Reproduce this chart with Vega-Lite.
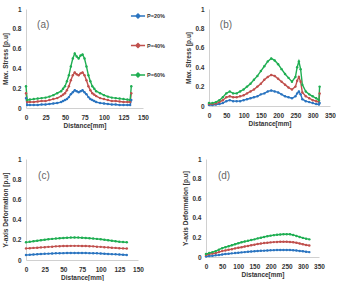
{
"$schema":"https://vega.github.io/schema/vega-lite/v6.json",
"padding":{"left":2,"top":6,"right":0,"bottom":0},
"background":"white",
"config":{
 "view":{"stroke":null},
 "axis":{"grid":false,"ticks":false,"labelOverlap":false,"labelFlush":false,"domainColor":"#d0d0d0","labelFont":"Liberation Sans","labelFontWeight":"bold","labelFontSize":6.5,"labelColor":"#333","titleFont":"Liberation Sans","titleFontWeight":"bold","titleFontSize":6.5,"titleColor":"#333"},
 "axisX":{"titlePadding":1.5,"labelPadding":6},
 "axisY":{"titlePadding":3,"labelPadding":5},
 "legend":{"title":null,"orient":"none","labelFont":"Liberation Sans","labelFontWeight":"bold","labelFontSize":5.5,"labelColor":"#333","symbolType":"M-1,0H1M0,-0.3L0.3,0L0,0.3L-0.3,0Z","symbolSize":200,"symbolStrokeWidth":1.2,"labelOffset":1,"rowPadding":15},
 "line":{"strokeWidth":1.4},
 "text":{"font":"Liberation Sans","fontSize":10,"color":"#666"}
},
"vconcat":[
 {"hconcat":[
  {"width":117,"height":99,
   "encoding":{
    "x":{"field":"x","type":"quantitative","scale":{"domain":[0,150]},"axis":{"values":[0,25,50,75,100,125,150],"labelOverlap":false,"title":"Distance[mm]"}},
    "y":{"field":"v","type":"quantitative","scale":{"domain":[0,1]},"axis":{"values":[0,0.2,0.4,0.6,0.8,1],"labelOverlap":false,"format":"~g","title":"Max. Stress [p.u]"}}
   },
   "layer":[
    {"data":{"values":[
{"x":0,"P=20%":0.10,"P=40%":0.15,"P=60%":0.22},
{"x":1.5,"P=20%":0.03,"P=40%":0.06,"P=60%":0.08},
{"x":5,"P=20%":0.03,"P=40%":0.06,"P=60%":0.085},
{"x":10,"P=20%":0.03,"P=40%":0.06,"P=60%":0.09},
{"x":15,"P=20%":0.03,"P=40%":0.065,"P=60%":0.095},
{"x":20,"P=20%":0.035,"P=40%":0.07,"P=60%":0.10},
{"x":25,"P=20%":0.035,"P=40%":0.07,"P=60%":0.105},
{"x":30,"P=20%":0.04,"P=40%":0.08,"P=60%":0.115},
{"x":35,"P=20%":0.045,"P=40%":0.09,"P=60%":0.13},
{"x":40,"P=20%":0.05,"P=40%":0.10,"P=60%":0.15},
{"x":45,"P=20%":0.06,"P=40%":0.12,"P=60%":0.17},
{"x":47.5,"P=20%":0.07,"P=40%":0.135,"P=60%":0.195},
{"x":50,"P=20%":0.08,"P=40%":0.15,"P=60%":0.22},
{"x":52.5,"P=20%":0.09,"P=40%":0.18,"P=60%":0.27},
{"x":55,"P=20%":0.11,"P=40%":0.22,"P=60%":0.33},
{"x":57.5,"P=20%":0.14,"P=40%":0.28,"P=60%":0.42},
{"x":60,"P=20%":0.16,"P=40%":0.33,"P=60%":0.50},
{"x":62.5,"P=20%":0.18,"P=40%":0.36,"P=60%":0.55},
{"x":65,"P=20%":0.17,"P=40%":0.34,"P=60%":0.52},
{"x":67.5,"P=20%":0.16,"P=40%":0.33,"P=60%":0.50},
{"x":70,"P=20%":0.17,"P=40%":0.35,"P=60%":0.53},
{"x":72.5,"P=20%":0.18,"P=40%":0.36,"P=60%":0.54},
{"x":75,"P=20%":0.16,"P=40%":0.33,"P=60%":0.50},
{"x":77.5,"P=20%":0.14,"P=40%":0.28,"P=60%":0.42},
{"x":80,"P=20%":0.11,"P=40%":0.22,"P=60%":0.33},
{"x":82.5,"P=20%":0.09,"P=40%":0.18,"P=60%":0.27},
{"x":85,"P=20%":0.08,"P=40%":0.15,"P=60%":0.22},
{"x":87.5,"P=20%":0.07,"P=40%":0.135,"P=60%":0.195},
{"x":90,"P=20%":0.06,"P=40%":0.12,"P=60%":0.17},
{"x":95,"P=20%":0.05,"P=40%":0.10,"P=60%":0.15},
{"x":100,"P=20%":0.045,"P=40%":0.09,"P=60%":0.13},
{"x":105,"P=20%":0.04,"P=40%":0.08,"P=60%":0.115},
{"x":110,"P=20%":0.035,"P=40%":0.07,"P=60%":0.105},
{"x":115,"P=20%":0.035,"P=40%":0.07,"P=60%":0.10},
{"x":120,"P=20%":0.03,"P=40%":0.065,"P=60%":0.095},
{"x":125,"P=20%":0.03,"P=40%":0.06,"P=60%":0.09},
{"x":130,"P=20%":0.03,"P=40%":0.06,"P=60%":0.085},
{"x":133.5,"P=20%":0.03,"P=40%":0.06,"P=60%":0.08},
{"x":135,"P=20%":0.08,"P=40%":0.15,"P=60%":0.22}
     ]},
     "transform":[{"fold":["P=20%","P=40%","P=60%"],"as":["s","v"]}],
     "mark":{"type":"line","point":{"filled":true,"size":6}},
     "encoding":{
      "color":{"field":"s","type":"nominal","scale":{"domain":["P=20%","P=40%","P=60%"],"range":["#2a74c0","#c0504d","#1fae52"]},"legend":{"legendX":104,"legendY":-1}}
     }},
    {"data":{"values":[{"t":"(a)","x":22,"v":0.84}]},"mark":{"type":"text"},
     "encoding":{"text":{"field":"t"}}}
   ]},
  {"width":121,"height":97,
   "encoding":{
    "x":{"field":"x","type":"quantitative","scale":{"domain":[0,350]},"axis":{"values":[0,50,100,150,200,250,300,350],"labelOverlap":false,"title":"Distance[mm]"}},
    "y":{"field":"v","type":"quantitative","scale":{"domain":[0,1]},"axis":{"values":[0,0.2,0.4,0.6,0.8,1],"labelOverlap":false,"format":"~g","title":"Max. Stress [p.u]"}}
   },
   "layer":[
    {"data":{"values":[
{"x":0,"P=20%":0.01,"P=40%":0.02,"P=60%":0.03},
{"x":10,"P=20%":0.01,"P=40%":0.02,"P=60%":0.03},
{"x":20,"P=20%":0.015,"P=40%":0.025,"P=60%":0.04},
{"x":30,"P=20%":0.02,"P=40%":0.04,"P=60%":0.06},
{"x":40,"P=20%":0.03,"P=40%":0.06,"P=60%":0.09},
{"x":50,"P=20%":0.05,"P=40%":0.09,"P=60%":0.13},
{"x":60,"P=20%":0.06,"P=40%":0.10,"P=60%":0.15},
{"x":70,"P=20%":0.05,"P=40%":0.09,"P=60%":0.13},
{"x":80,"P=20%":0.05,"P=40%":0.09,"P=60%":0.13},
{"x":90,"P=20%":0.05,"P=40%":0.10,"P=60%":0.15},
{"x":100,"P=20%":0.06,"P=40%":0.11,"P=60%":0.17},
{"x":110,"P=20%":0.07,"P=40%":0.13,"P=60%":0.20},
{"x":120,"P=20%":0.08,"P=40%":0.15,"P=60%":0.23},
{"x":130,"P=20%":0.09,"P=40%":0.17,"P=60%":0.27},
{"x":140,"P=20%":0.10,"P=40%":0.20,"P=60%":0.31},
{"x":150,"P=20%":0.12,"P=40%":0.23,"P=60%":0.36},
{"x":160,"P=20%":0.13,"P=40%":0.27,"P=60%":0.41},
{"x":170,"P=20%":0.15,"P=40%":0.30,"P=60%":0.46},
{"x":180,"P=20%":0.16,"P=40%":0.32,"P=60%":0.49},
{"x":190,"P=20%":0.15,"P=40%":0.31,"P=60%":0.47},
{"x":200,"P=20%":0.14,"P=40%":0.28,"P=60%":0.43},
{"x":210,"P=20%":0.12,"P=40%":0.25,"P=60%":0.38},
{"x":220,"P=20%":0.10,"P=40%":0.22,"P=60%":0.33},
{"x":230,"P=20%":0.09,"P=40%":0.19,"P=60%":0.29},
{"x":240,"P=20%":0.08,"P=40%":0.17,"P=60%":0.25},
{"x":250,"P=20%":0.10,"P=40%":0.20,"P=60%":0.30},
{"x":255,"P=20%":0.13,"P=40%":0.26,"P=60%":0.40},
{"x":260,"P=20%":0.15,"P=40%":0.30,"P=60%":0.46},
{"x":265,"P=20%":0.12,"P=40%":0.25,"P=60%":0.38},
{"x":270,"P=20%":0.07,"P=40%":0.14,"P=60%":0.22},
{"x":280,"P=20%":0.05,"P=40%":0.10,"P=60%":0.15},
{"x":290,"P=20%":0.04,"P=40%":0.08,"P=60%":0.12},
{"x":300,"P=20%":0.03,"P=40%":0.06,"P=60%":0.10},
{"x":310,"P=20%":0.02,"P=40%":0.05,"P=60%":0.08},
{"x":318,"P=20%":0.015,"P=40%":0.04,"P=60%":0.06},
{"x":320,"P=20%":0.03,"P=40%":0.13,"P=60%":0.20}
     ]},
     "transform":[{"fold":["P=20%","P=40%","P=60%"],"as":["s","v"]}],
     "mark":{"type":"line","point":{"filled":true,"size":6}},
     "encoding":{
      "color":{"field":"s","type":"nominal","scale":{"domain":["P=20%","P=40%","P=60%"],"range":["#2a74c0","#c0504d","#1fae52"]},"legend":{"legendX":109,"legendY":1}}
     }},
    {"data":{"values":[{"t":"(b)","x":49,"v":0.84}]},"mark":{"type":"text"},
     "encoding":{"text":{"field":"t"}}}
   ]}
 ],"spacing":36},
 {"hconcat":[
  {"width":112,"height":101,
   "encoding":{
    "x":{"field":"x","type":"quantitative","scale":{"domain":[0,150]},"axis":{"values":[0,25,50,75,100,125,150],"labelOverlap":false,"title":"Distance[mm]"}},
    "y":{"field":"v","type":"quantitative","scale":{"domain":[0,1]},"axis":{"values":[0,0.2,0.4,0.6,0.8,1],"labelOverlap":false,"format":"~g","title":"Y-axis Deformation [p.u]"}}
   },
   "layer":[
    {"data":{"values":[
{"x":0,"P=20%":0.05,"P=40%":0.115,"P=60%":0.175},
{"x":5,"P=20%":0.052,"P=40%":0.117,"P=60%":0.18},
{"x":10,"P=20%":0.055,"P=40%":0.12,"P=60%":0.185},
{"x":15,"P=20%":0.057,"P=40%":0.122,"P=60%":0.19},
{"x":20,"P=20%":0.06,"P=40%":0.125,"P=60%":0.195},
{"x":25,"P=20%":0.061,"P=40%":0.127,"P=60%":0.2},
{"x":30,"P=20%":0.063,"P=40%":0.13,"P=60%":0.205},
{"x":35,"P=20%":0.065,"P=40%":0.132,"P=60%":0.209},
{"x":40,"P=20%":0.066,"P=40%":0.135,"P=60%":0.212},
{"x":45,"P=20%":0.067,"P=40%":0.137,"P=60%":0.215},
{"x":50,"P=20%":0.068,"P=40%":0.138,"P=60%":0.218},
{"x":55,"P=20%":0.069,"P=40%":0.139,"P=60%":0.22},
{"x":60,"P=20%":0.07,"P=40%":0.14,"P=60%":0.222},
{"x":65,"P=20%":0.07,"P=40%":0.14,"P=60%":0.223},
{"x":70,"P=20%":0.07,"P=40%":0.14,"P=60%":0.222},
{"x":75,"P=20%":0.07,"P=40%":0.139,"P=60%":0.22},
{"x":80,"P=20%":0.069,"P=40%":0.138,"P=60%":0.218},
{"x":85,"P=20%":0.068,"P=40%":0.137,"P=60%":0.215},
{"x":90,"P=20%":0.067,"P=40%":0.135,"P=60%":0.212},
{"x":95,"P=20%":0.066,"P=40%":0.132,"P=60%":0.209},
{"x":100,"P=20%":0.064,"P=40%":0.13,"P=60%":0.205},
{"x":105,"P=20%":0.062,"P=40%":0.127,"P=60%":0.2},
{"x":110,"P=20%":0.06,"P=40%":0.125,"P=60%":0.195},
{"x":115,"P=20%":0.058,"P=40%":0.122,"P=60%":0.19},
{"x":120,"P=20%":0.056,"P=40%":0.12,"P=60%":0.185},
{"x":125,"P=20%":0.054,"P=40%":0.117,"P=60%":0.181},
{"x":130,"P=20%":0.052,"P=40%":0.115,"P=60%":0.178},
{"x":135,"P=20%":0.05,"P=40%":0.113,"P=60%":0.175}
     ]},
     "transform":[{"fold":["P=20%","P=40%","P=60%"],"as":["s","v"]}],
     "mark":{"type":"line","point":{"filled":true,"size":6}},
     "encoding":{
      "color":{"field":"s","type":"nominal","scale":{"domain":["P=20%","P=40%","P=60%"],"range":["#2a74c0","#c0504d","#1fae52"]},"legend":{"legendX":112,"legendY":34,"rowPadding":16.5}}
     }},
    {"data":{"values":[{"t":"(c)","x":24,"v":0.83}]},"mark":{"type":"text"},
     "encoding":{"text":{"field":"t"}}}
   ]},
  {"width":113,"height":98,
   "encoding":{
    "x":{"field":"x","type":"quantitative","scale":{"domain":[0,350]},"axis":{"values":[0,50,100,150,200,250,300,350],"labelOverlap":false,"title":"Distance[mm]"}},
    "y":{"field":"v","type":"quantitative","scale":{"domain":[0,1]},"axis":{"values":[0,0.2,0.4,0.6,0.8,1],"labelOverlap":false,"format":"~g","title":"Y-axis Deformation [p.u]"}}
   },
   "layer":[
    {"data":{"values":[
{"x":0,"P=20%":0.005,"P=40%":0.02,"P=60%":0.03},
{"x":10,"P=20%":0.01,"P=40%":0.03,"P=60%":0.04},
{"x":20,"P=20%":0.013,"P=40%":0.035,"P=60%":0.05},
{"x":30,"P=20%":0.017,"P=40%":0.04,"P=60%":0.06},
{"x":40,"P=20%":0.02,"P=40%":0.05,"P=60%":0.075},
{"x":50,"P=20%":0.025,"P=40%":0.06,"P=60%":0.09},
{"x":60,"P=20%":0.03,"P=40%":0.067,"P=60%":0.10},
{"x":70,"P=20%":0.033,"P=40%":0.074,"P=60%":0.11},
{"x":80,"P=20%":0.037,"P=40%":0.08,"P=60%":0.12},
{"x":90,"P=20%":0.04,"P=40%":0.088,"P=60%":0.13},
{"x":100,"P=20%":0.044,"P=40%":0.095,"P=60%":0.14},
{"x":110,"P=20%":0.047,"P=40%":0.10,"P=60%":0.15},
{"x":120,"P=20%":0.05,"P=40%":0.107,"P=60%":0.158},
{"x":130,"P=20%":0.053,"P=40%":0.113,"P=60%":0.165},
{"x":140,"P=20%":0.056,"P=40%":0.12,"P=60%":0.173},
{"x":150,"P=20%":0.058,"P=40%":0.126,"P=60%":0.18},
{"x":160,"P=20%":0.061,"P=40%":0.132,"P=60%":0.19},
{"x":170,"P=20%":0.063,"P=40%":0.137,"P=60%":0.197},
{"x":180,"P=20%":0.065,"P=40%":0.142,"P=60%":0.205},
{"x":190,"P=20%":0.067,"P=40%":0.146,"P=60%":0.212},
{"x":200,"P=20%":0.068,"P=40%":0.149,"P=60%":0.218},
{"x":210,"P=20%":0.07,"P=40%":0.152,"P=60%":0.223},
{"x":220,"P=20%":0.071,"P=40%":0.154,"P=60%":0.227},
{"x":230,"P=20%":0.072,"P=40%":0.155,"P=60%":0.23},
{"x":240,"P=20%":0.072,"P=40%":0.155,"P=60%":0.232},
{"x":250,"P=20%":0.072,"P=40%":0.155,"P=60%":0.233},
{"x":260,"P=20%":0.071,"P=40%":0.153,"P=60%":0.232},
{"x":270,"P=20%":0.069,"P=40%":0.15,"P=60%":0.225},
{"x":280,"P=20%":0.066,"P=40%":0.145,"P=60%":0.215},
{"x":290,"P=20%":0.062,"P=40%":0.138,"P=60%":0.205},
{"x":300,"P=20%":0.058,"P=40%":0.13,"P=60%":0.195},
{"x":310,"P=20%":0.054,"P=40%":0.123,"P=60%":0.187},
{"x":320,"P=20%":0.05,"P=40%":0.117,"P=60%":0.18}
     ]},
     "transform":[{"fold":["P=20%","P=40%","P=60%"],"as":["s","v"]}],
     "mark":{"type":"line","point":{"filled":true,"size":6}},
     "encoding":{
      "color":{"field":"s","type":"nominal","scale":{"domain":["P=20%","P=40%","P=60%"],"range":["#2a74c0","#c0504d","#1fae52"]},"legend":{"legendX":113,"legendY":31,"rowPadding":16}}
     }},
    {"data":{"values":[{"t":"(d)","x":56,"v":0.83}]},"mark":{"type":"text"},
     "encoding":{"text":{"field":"t"}}}
   ]}
 ],"spacing":38}
],"spacing":27
}
